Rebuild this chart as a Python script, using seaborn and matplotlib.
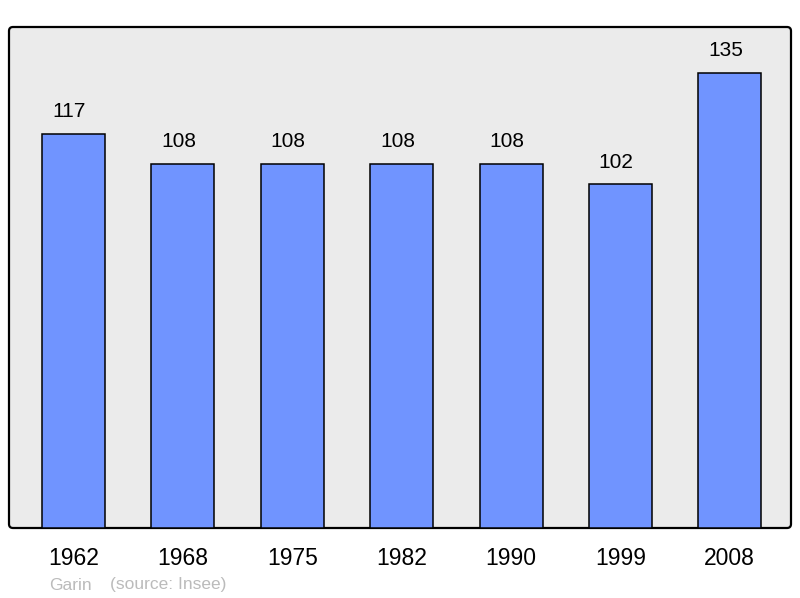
import matplotlib
matplotlib.use("Agg")
import matplotlib.pyplot as plt
from matplotlib.patches import FancyBboxPatch
import seaborn as sns
import pandas as pd

# Population data (Garin, source Insee)
years = ["1962", "1968", "1975", "1982", "1990", "1999", "2008"]
population = [117, 108, 108, 108, 108, 102, 135]

sns.set_style("white")
plt.rcParams['font.family'] = ['Liberation Sans', 'DejaVu Sans']

df = pd.DataFrame({"year": years, "pop": population})

fig = plt.figure(figsize=(8, 5.98), dpi=100)
ax = fig.add_axes([9 / 800, 70 / 598, 782 / 800, 501 / 598])
ax.set_facecolor("none")

sns.barplot(data=df, x="year", y="pop", color="#7094ff", width=0.576,
            saturation=1, edgecolor="black", linewidth=1.1, ax=ax, zorder=2)

# rounded frame behind the bars (pixel coords)
frame = FancyBboxPatch((9, 70), 782, 501, boxstyle="round,pad=0,rounding_size=4",
                       transform=None, facecolor="#ebebeb", edgecolor="black",
                       linewidth=1.6, zorder=0, clip_on=False)
ax.add_patch(frame)

ax.set_xlim(-0.59, 6.56)
ax.set_ylim(0, 148.6)
for s in ax.spines.values():
    s.set_visible(False)
ax.set_yticks([])
ax.set_xlabel("")
ax.set_ylabel("")
ax.tick_params(axis="x", length=0, pad=14, labelsize=16.5, labelcolor="black")

for i, v in enumerate(population):
    ax.annotate(str(v), (i, v), xytext=(-3, 9), textcoords="offset points",
                ha="center", va="bottom", fontsize=15, color="black")

fig.text(49 / 800, 1 - 585 / 598, "Garin", color="#bbbbbb", fontsize=12.5, va="center")
fig.text(110 / 800, 1 - 585 / 598, "(source: Insee)", color="#bbbbbb", fontsize=12.5, va="center")

fig.savefig("out.png", dpi=100)
